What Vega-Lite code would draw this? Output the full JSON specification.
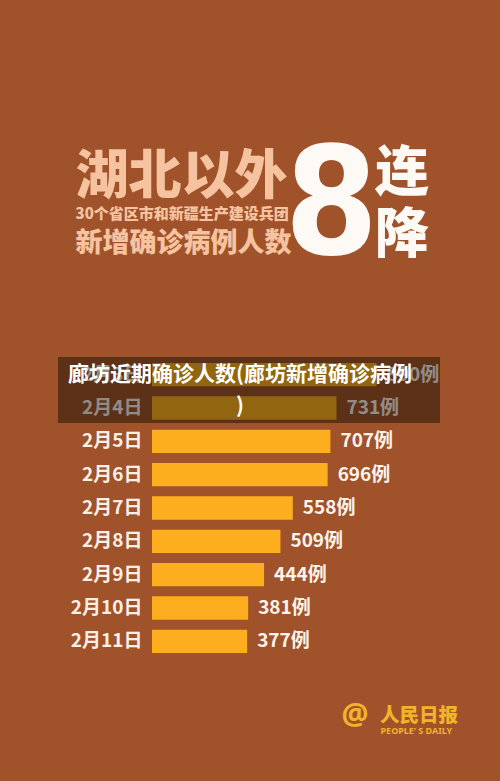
{
  "$schema": "https://vega.github.io/schema/vega-lite/v6.json",
  "autosize": {"type": "none"},
  "width": 348,
  "height": 300,
  "padding": {"top": 358, "left": 152, "right": 0, "bottom": 123},
  "background": "#a0532a",
  "config": {
    "view": {"stroke": null},
    "axis": {"grid": false, "domain": false, "ticks": false}
  },
  "datasets": {
    "rows": [
      {"d": "2月3日", "v": 890, "label": "890例"},
      {"d": "2月4日", "v": 731, "label": "731例"},
      {"d": "2月5日", "v": 707, "label": "707例"},
      {"d": "2月6日", "v": 696, "label": "696例"},
      {"d": "2月7日", "v": 558, "label": "558例"},
      {"d": "2月8日", "v": 509, "label": "509例"},
      {"d": "2月9日", "v": 444, "label": "444例"},
      {"d": "2月10日", "v": 381, "label": "381例"},
      {"d": "2月11日", "v": 377, "label": "377例"}
    ],
    "caption": [
      {"text": "廊坊近期确诊人数(廊坊新增确诊病例\n)"}
    ]
  },
  "data": {"name": "rows"},
  "layer": [
    {
      "mark": {"type": "bar", "color": "#fcae1e"},
      "encoding": {
        "y": {
          "field": "d", "type": "nominal", "sort": null,
          "scale": {"domain": ["2月3日","2月4日","2月5日","2月6日","2月7日","2月8日","2月9日","2月10日","2月11日"], "paddingInner": 0.3, "paddingOuter": 0.15},
          "axis": {
            "orient": "left",
            "labelFont": "Noto Sans CJK SC", "labelFontSize": 19, "labelFontWeight": "bold", "labelColor": "#fcf0e6", "labelPadding": 10,
            "title": "新增确诊病例人数", "titleAngle": 0, "titleX": -77, "titleY": -115, "titleAlign": "left", "titleBaseline": "middle",
            "titleFont": "Noto Sans CJK SC", "titleFontSize": 27, "titleFontWeight": 900, "titleColor": "#f6c3a0"
          }
        },
        "x": {
          "field": "v", "type": "quantitative",
          "scale": {"domain": [0, 1379], "nice": false},
          "axis": {
            "orient": "top", "labels": false,
            "title": "8", "titleX": 179, "titleY": -105, "titleAlign": "center", "titleBaseline": "alphabetic",
            "titleFont": "Liberation Sans Narrow, DejaVu Sans Condensed, sans-serif", "titleFontSize": 150, "titleFontWeight": "bold", "titleColor": "#fdfaf5"
          }
        }
      }
    },
    {
      "mark": {"type": "text", "align": "left", "baseline": "middle", "dx": 10, "font": "Noto Sans CJK SC", "fontSize": 19, "fontWeight": "bold", "color": "#fcf3ec"},
      "encoding": {
        "y": {
          "field": "d", "type": "nominal", "sort": null,
          "scale": {"domain": ["2月3日","2月4日","2月5日","2月6日","2月7日","2月8日","2月9日","2月10日","2月11日"], "paddingInner": 0.3, "paddingOuter": 0.15},
          "axis": {
            "orient": "right", "labels": false,
            "title": ["连", "降"], "titleAngle": 0, "titleX": -98.5, "titleY": -167.5, "titleAlign": "center", "titleBaseline": "alphabetic", "titleLineHeight": 62,
            "titleFont": "Noto Sans CJK SC", "titleFontSize": 54, "titleFontWeight": 900, "titleColor": "#fdfaf5"
          }
        },
        "x": {
          "field": "v", "type": "quantitative",
          "scale": {"domain": [0, 1379], "nice": false},
          "axis": {
            "orient": "bottom", "labels": false,
            "title": "人民日报", "titleX": 266.5, "titleY": 57, "titleAlign": "center", "titleBaseline": "middle",
            "titleFont": "Noto Sans CJK SC", "titleFontSize": 19.5, "titleFontWeight": 900, "titleColor": "#f2b22a"
          }
        },
        "text": {"field": "label"}
      }
    },
    {
      "data": {"name": "caption"},
      "mark": {"type": "rect", "color": "#000000", "opacity": 0.42, "yOffset": -17.7, "y2Offset": -18.3},
      "encoding": {
        "x": {
          "datum": -372.6, "type": "quantitative",
          "scale": {"domain": [0, 1379], "nice": false},
          "axis": {
            "orient": "bottom", "labels": false,
            "title": "PEOPLE’ S DAILY", "titleX": 228, "titleY": 75.5, "titleAlign": "left", "titleBaseline": "alphabetic",
            "titleFont": "Noto Sans", "titleFontSize": 9, "titleFontWeight": "bold", "titleColor": "#f2b22a"
          }
        },
        "x2": {"datum": 1141.5},
        "y": {
          "datum": "2月3日", "type": "nominal",
          "scale": {"domain": ["2月3日","2月4日","2月5日","2月6日","2月7日","2月8日","2月9日","2月10日","2月11日"], "paddingInner": 0.3, "paddingOuter": 0.15},
          "axis": {
            "orient": "left", "labels": false,
            "title": "湖北以外", "titleAngle": 0, "titleX": -77, "titleY": -181, "titleAlign": "left", "titleBaseline": "middle",
            "titleFont": "Noto Sans CJK SC", "titleFontSize": 53, "titleFontWeight": 900, "titleColor": "#f6c3a0"
          }
        },
        "y2": {"datum": "2月5日"}
      }
    },
    {
      "data": {"name": "caption"},
      "mark": {"type": "text", "align": "center", "baseline": "alphabetic", "dy": 6, "lineBreak": "\n", "lineHeight": 32, "font": "Noto Sans CJK SC", "fontSize": 21, "fontWeight": "bold", "color": "#ffffff"},
      "encoding": {
        "x": {
          "datum": 348.8, "type": "quantitative",
          "scale": {"domain": [0, 1379], "nice": false},
          "axis": {
            "orient": "bottom", "labels": false,
            "title": "@", "titleX": 202.5, "titleY": 57, "titleAlign": "center", "titleBaseline": "middle",
            "titleFont": "Noto Sans", "titleFontSize": 30, "titleFontWeight": "bold", "titleColor": "#f2b22a"
          }
        },
        "y": {
          "datum": "2月3日", "type": "nominal",
          "scale": {"domain": ["2月3日","2月4日","2月5日","2月6日","2月7日","2月8日","2月9日","2月10日","2月11日"], "paddingInner": 0.3, "paddingOuter": 0.15},
          "axis": {
            "orient": "left", "labels": false,
            "title": "30个省区市和新疆生产建设兵团", "titleAngle": 0, "titleX": -77, "titleY": -145, "titleAlign": "left", "titleBaseline": "middle",
            "titleFont": "Noto Sans CJK SC", "titleFontSize": 15, "titleFontWeight": 900, "titleColor": "#f6c3a0"
          }
        },
        "text": {"field": "text"}
      }
    }
  ],
  "resolve": {"axis": {"x": "independent", "y": "independent"}}
}
